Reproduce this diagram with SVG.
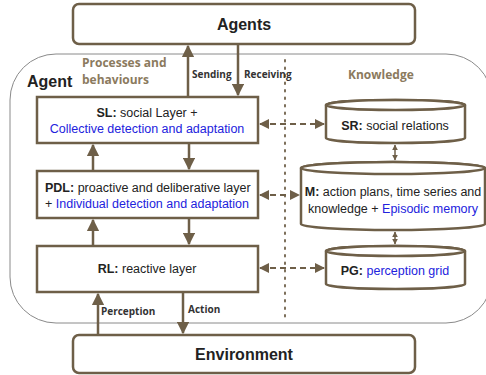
<svg xmlns="http://www.w3.org/2000/svg" width="486" height="375" viewBox="0 0 486 375">
  <defs>
    <marker id="tri" viewBox="0 0 10 10" refX="9" refY="5" markerWidth="5" markerHeight="5" orient="auto-start-reverse" markerUnits="strokeWidth">
      <path d="M0,0 L10,5 L0,10 z" fill="#6e5f48"/>
    </marker>
    <marker id="tri-s" viewBox="0 0 10 10" refX="9" refY="5" markerWidth="4" markerHeight="4" orient="auto-start-reverse" markerUnits="strokeWidth">
      <path d="M0,0 L10,5 L0,10 z" fill="#6e5f48"/>
    </marker>
  </defs>
  <style>
    .box { fill: #ffffff; stroke: #6e5f48; stroke-width: 2.5; }
    .cyl { fill: #ffffff; stroke: #6e5f48; stroke-width: 2.5; }
    .frame { fill: none; stroke: #8a8a8a; stroke-width: 1; }
    .t { font-family: "Liberation Sans", Arial, sans-serif; font-size: 12.5px; fill: #222222; }
    .b { font-weight: bold; }
    .blue { fill: #2222dd; }
    .title { font-family: "Liberation Sans", Arial, sans-serif; font-size: 16px; font-weight: bold; fill: #222222; }
    .lbl { font-family: "Open Sans", "Noto Sans", sans-serif; font-size: 10px; font-weight: bold; fill: #333333; }
    .sec { font-family: "Open Sans", "Noto Sans", sans-serif; font-size: 12px; font-weight: bold; fill: #8b7a5e; }
    .solid { stroke: #6e5f48; stroke-width: 2.5; fill: none; }
    .dash { stroke: #6e5f48; stroke-width: 2; fill: none; stroke-dasharray: 6 4; }
    .thin { stroke: #6e5f48; stroke-width: 1.5; fill: none; }
  </style>

  <!-- agent container -->
  <rect class="frame" x="10" y="54" width="482" height="269" rx="46" ry="46"/>
  <line x1="285" y1="60" x2="285" y2="318" stroke="#6e5f48" stroke-width="1.8" stroke-dasharray="1.5 6" stroke-linecap="round"/>

  <text class="title" x="27" y="87">Agent</text>
  <text class="sec" x="82" y="67">Processes and</text>
  <text class="sec" x="82" y="84">behaviours</text>
  <text class="sec" x="348" y="79">Knowledge</text>

  <g id="agents">
    <rect class="box" x="73" y="4" width="342" height="40" rx="6"/>
    <text class="title" x="244" y="30" text-anchor="middle">Agents</text>
  </g>

  <g id="environment">
    <rect class="box" x="73" y="335" width="342" height="38" rx="6"/>
    <text class="title" x="244" y="360" text-anchor="middle">Environment</text>
  </g>

  <g id="sl">
    <rect class="box" x="37" y="97" width="221" height="46"/>
    <text class="t" x="147" y="117" text-anchor="middle"><tspan class="b">SL:</tspan> social Layer +</text>
    <text class="t blue" x="147" y="133" text-anchor="middle">Collective detection and adaptation</text>
  </g>

  <g id="pdl">
    <rect class="box" x="37" y="171" width="221" height="47"/>
    <text class="t" x="45" y="192"><tspan class="b">PDL:</tspan> proactive and deliberative layer</text>
    <text class="t" x="45" y="208">+ <tspan class="blue">Individual detection and adaptation</tspan></text>
  </g>

  <g id="rl">
    <rect class="box" x="37" y="246" width="221" height="46"/>
    <text class="t" x="147" y="273" text-anchor="middle"><tspan class="b">RL:</tspan> reactive layer</text>
  </g>

  <g id="sr">
    <path class="cyl" d="M326,105 L326,138 A69.5,5 0 0 0 465,138 L465,105 A69.5,5 0 0 0 326,105 Z"/>
    <ellipse class="cyl" cx="395.5" cy="105" rx="69.5" ry="5" fill="none"/>
    <text class="t" x="395" y="130" text-anchor="middle"><tspan class="b">SR:</tspan> social relations</text>
  </g>

  <g id="m">
    <path class="cyl" d="M301,168 L301,224 A92,6 0 0 0 485,224 L485,168 A92,6 0 0 0 301,168 Z"/>
    <ellipse class="cyl" cx="393" cy="168" rx="92" ry="6" fill="none"/>
    <text class="t" x="393" y="196" text-anchor="middle"><tspan class="b">M:</tspan> action plans, time series and</text>
    <text class="t" x="393" y="213" text-anchor="middle">knowledge + <tspan class="blue">Episodic memory</tspan></text>
  </g>

  <g id="pg">
    <path class="cyl" d="M326,251 L326,284 A69.5,5 0 0 0 465,284 L465,251 A69.5,5 0 0 0 326,251 Z"/>
    <ellipse class="cyl" cx="395.5" cy="251" rx="69.5" ry="5" fill="none"/>
    <text class="t" x="395" y="275" text-anchor="middle"><tspan class="b">PG:</tspan> <tspan class="blue">perception grid</tspan></text>
  </g>

  <g id="connectors">
    <!-- agent <-> other agents -->
    <line class="solid" x1="188" y1="97" x2="188" y2="46" marker-end="url(#tri)"/>
    <line class="solid" x1="238" y1="44" x2="238" y2="95" marker-end="url(#tri)"/>
    <text class="lbl" x="192" y="78">Sending</text>
    <text class="lbl" x="244" y="78">Receiving</text>

    <!-- layer stack -->
    <line class="solid" x1="93" y1="171" x2="93" y2="145" marker-end="url(#tri)"/>
    <line class="solid" x1="189" y1="143" x2="189" y2="169" marker-end="url(#tri)"/>
    <line class="solid" x1="93" y1="246" x2="93" y2="220" marker-end="url(#tri)"/>
    <line class="solid" x1="189" y1="218" x2="189" y2="244" marker-end="url(#tri)"/>

    <!-- environment -->
    <line class="solid" x1="98" y1="335" x2="98" y2="294" marker-end="url(#tri)"/>
    <line class="solid" x1="183" y1="292" x2="183" y2="333" marker-end="url(#tri)"/>
    <text class="lbl" x="101" y="315">Perception</text>
    <text class="lbl" x="188" y="313">Action</text>

    <!-- layers <-> knowledge -->
    <line class="dash" x1="260" y1="124" x2="324" y2="124" marker-start="url(#tri)" marker-end="url(#tri)"/>
    <line class="dash" x1="260" y1="195" x2="299" y2="195" marker-start="url(#tri)" marker-end="url(#tri)"/>
    <line class="dash" x1="260" y1="268" x2="324" y2="268" marker-start="url(#tri)" marker-end="url(#tri)"/>

    <!-- between knowledge stores -->
    <line class="thin" x1="395" y1="145" x2="395" y2="160" marker-start="url(#tri-s)" marker-end="url(#tri-s)"/>
    <line class="thin" x1="395" y1="232" x2="395" y2="244" marker-start="url(#tri-s)" marker-end="url(#tri-s)"/>
  </g>
</svg>
